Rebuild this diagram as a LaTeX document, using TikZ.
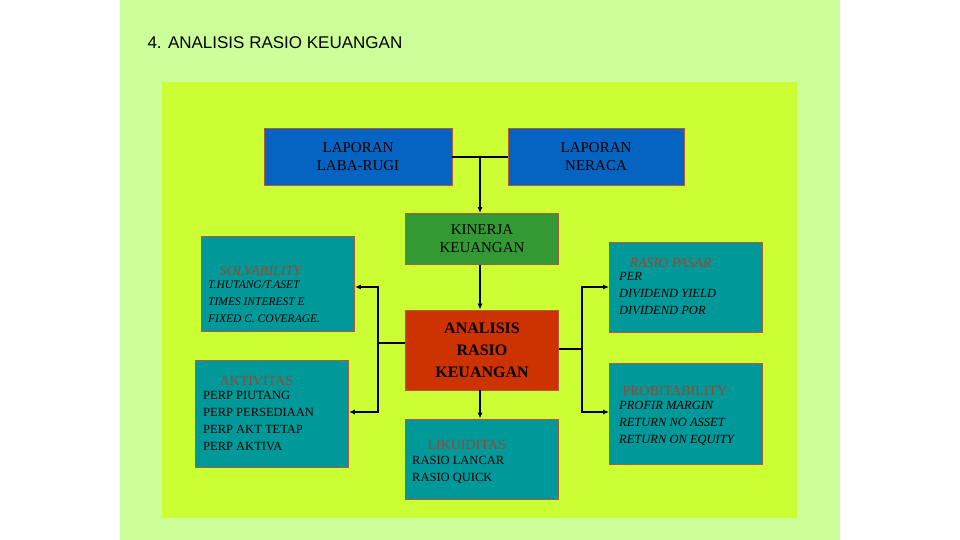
\documentclass[tikz,border=0pt]{standalone}
\usepackage{fontspec}
\setmainfont{Liberation Serif}
\newfontfamily\arial{Liberation Sans}
\usetikzlibrary{arrows.meta}
\definecolor{outerg}{HTML}{CCFF99}
\definecolor{panel}{HTML}{CCFF33}
\definecolor{blu}{HTML}{0563C1}
\definecolor{teal2}{HTML}{009999}
\definecolor{grn}{HTML}{339933}
\definecolor{redb}{HTML}{CC3300}
\definecolor{brd}{HTML}{B05A3C}
\definecolor{hdr}{HTML}{A0452D}
\tikzset{
 x=1pt,y=-1pt,
 boxst/.style={draw=brd,line width=0.8pt,inner sep=0pt},
 conn/.style={line width=1.2pt,black},
 arr/.style={conn,-{Latex[length=6pt,width=5pt]}},
 ctext/.style={align=center,font=\fontsize{15}{18}\selectfont},
 hd/.style={text=hdr,font=\fontsize{14}{16}\selectfont\itshape,anchor=west},
 hdu/.style={text=hdr,font=\fontsize{14}{16}\selectfont,anchor=west},
 lst/.style={align=left,anchor=north west,font=\fontsize{12.5}{17}\selectfont\itshape,inner sep=0pt},
 lstu/.style={align=left,anchor=north west,font=\fontsize{12.5}{17}\selectfont,inner sep=0pt},
}
\begin{document}
\begin{tikzpicture}
\useasboundingbox (0,0) rectangle (960,540);
\fill[white] (0,0) rectangle (960,540);
\fill[outerg] (120,0) rectangle (840,540);
\fill[panel] (162,82) rectangle (797,518);
\node[anchor=west,font=\arial\fontsize{17}{20}\selectfont] (title) at (144,43) {4. ANALISIS RASIO KEUANGAN};
% boxes
\node[boxst,fill=blu,minimum width=188,minimum height=57,ctext] (lr) at (358,157) {LAPORAN\\LABA-RUGI};
\node[boxst,fill=blu,minimum width=176,minimum height=57,ctext] (ner) at (596,157) {LAPORAN\\NERACA};
\node[boxst,fill=grn,minimum width=153,minimum height=51,ctext] (kin) at (482,239) {KINERJA\\KEUANGAN};
\node[boxst,fill=redb,minimum width=153,minimum height=80,ctext,font=\fontsize{16}{22}\selectfont\bfseries] (ana) at (482,350) {ANALISIS\\RASIO\\KEUANGAN};
\node[boxst,fill=teal2,minimum width=153,minimum height=95] (sol) at (278,284) {};
\node[boxst,fill=teal2,minimum width=153,minimum height=107] (akt) at (272,414) {};
\node[boxst,fill=teal2,minimum width=153,minimum height=80] (lik) at (482,459) {};
\node[boxst,fill=teal2,minimum width=153,minimum height=90] (pas) at (686,287) {};
\node[boxst,fill=teal2,minimum width=153,minimum height=101] (pro) at (686,414) {};
% texts
\node[hd] (solh) at (216,271) {SOLVABILITY};
\node[lst,font=\fontsize{11.5}{17}\selectfont\itshape] (solt) at (208,281) {T.HUTANG/T.ASET\\TIMES INTEREST E\\FIXED C. COVERAGE.};
\node[hdu] (akth) at (216,381) {AKTIVITAS};
\node[lstu] (aktt) at (203,391) {PERP PIUTANG\\PERP PERSEDIAAN\\PERP AKT TETAP\\PERP AKTIVA};
\node[hdu] (likh) at (424,445) {LIKUIDITAS};
\node[lstu] (likt) at (412,456) {RASIO LANCAR\\RASIO QUICK};
\node[hd] (pash) at (626,263) {RASIO PASAR};
\node[lst] (past) at (619,272) {PER\\DIVIDEND YIELD\\DIVIDEND POR};
\node[hdu] (proh) at (619,391) {PROBITABILITY};
\node[lst] (prot) at (619,401) {PROFIR MARGIN\\RETURN NO ASSET\\RETURN ON EQUITY};
% connectors
\coordinate (j) at (480,157);
\draw[conn] (lr.east) -- (ner.west);
\draw[arr] (j) -- (j |- kin.north);
\draw[arr] (kin.south -| j) -- (j |- ana.north);
\draw[arr] (ana.south -| j) -- (j |- lik.north);
\coordinate (lj) at (378,343);
\draw[conn] (ana.west |- lj) -- (lj);
\draw[arr] (lj) -- (378,287) -- (sol.east |- 0,287);
\draw[arr] (lj) -- (378,412) -- (akt.east |- 0,412);
\coordinate (rj) at (582,349);
\draw[conn] (ana.east |- rj) -- (rj);
\draw[arr] (rj) -- (582,287) -- (pas.west |- 0,287);
\draw[arr] (rj) -- (582,412) -- (pro.west |- 0,412);
\end{tikzpicture}
\end{document}
